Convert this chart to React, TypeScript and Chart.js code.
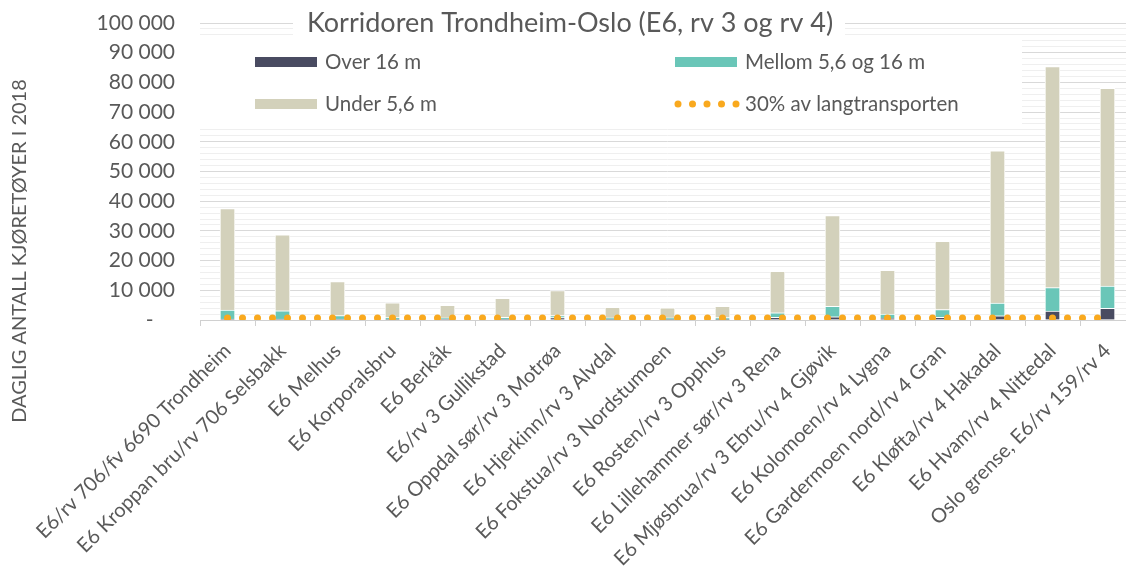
import React, { useEffect, useRef } from "react";
import { Chart, registerables } from "chart.js";

Chart.register(...registerables);

const TITLE = "Korridoren Trondheim-Oslo (E6, rv 3 og rv 4)";
const Y_TITLE = "DAGLIG ANTALL KJØRETØYER I 2018";

const categories = [
  "E6/rv 706/fv 6690 Trondheim",
  "E6 Kroppan bru/rv 706 Selsbakk",
  "E6 Melhus",
  "E6 Korporalsbru",
  "E6 Berkåk",
  "E6/rv 3 Gullikstad",
  "E6 Oppdal sør/rv 3 Motrøa",
  "E6 Hjerkinn/rv 3 Alvdal",
  "E6 Fokstua/rv 3 Nordstumoen",
  "E6 Rosten/rv 3 Opphus",
  "E6 Lillehammer sør/rv 3 Rena",
  "E6 Mjøsbrua/rv 3 Ebru/rv 4 Gjøvik",
  "E6 Kolomoen/rv 4 Lygna",
  "E6 Gardermoen nord/rv 4 Gran",
  "E6 Kløfta/rv 4 Hakadal",
  "E6 Hvam/rv 4 Nittedal",
  "Oslo grense, E6/rv 159/rv 4",
];

const over16 = [300, 300, 300, 300, 300, 300, 800, 200, 200, 200, 900, 1100, 600, 900, 1400, 3000, 3900];
const mellom = [3000, 2800, 1200, 500, 400, 600, 700, 500, 500, 600, 1500, 3500, 1400, 2600, 4300, 7900, 7500];
const under56 = [34200, 25600, 11400, 5000, 4200, 6400, 8400, 3600, 3400, 3800, 14000, 30600, 14700, 23000, 51300, 74400, 66600];
const langtransport30 = [700, 700, 700, 700, 700, 700, 700, 700, 700, 700, 700, 700, 700, 700, 700, 700, 700];

const yMin = 0;
const yMax = 100000;
const yMinorStep = 2000;
const yMajorStep = 10000;

const C_DARK = "#494B61";
const C_TEAL = "#6AC6B8";
const C_BEIGE = "#D3D1BB";
const C_ORANGE = "#F9A91E";
const C_TEXT = "#595959";
const FONT = "Lato, 'Open Sans', sans-serif";

const fmt = (v: number) =>
  v === 0 ? "-    " : String(v).replace(/\B(?=(\d{3})+(?!\d))/g, " ");

const overlayPlugin = {
  id: "overlay",
  beforeDatasetsDraw(chart: any) {
    const { ctx, chartArea } = chart;
    const L = chartArea.left;
    const T = chartArea.top;
    ctx.save();
    // white backgrounds behind title and legend
    ctx.fillStyle = "#ffffff";
    ctx.fillRect(L + 93, T - 15, 552, 30);
    ctx.fillRect(L, T + 15, 822, 89);
    // title
    ctx.fillStyle = C_TEXT;
    ctx.font = `27px ${FONT}`;
    ctx.textAlign = "center";
    ctx.textBaseline = "middle";
    ctx.fillText(TITLE, L + 370, T);
    // legend
    const ds = chart.data.datasets;
    const items = [
      { d: ds[0], x: L + 55, y: T + 39 },
      { d: ds[1], x: L + 475, y: T + 39 },
      { d: ds[2], x: L + 55, y: T + 81 },
      { d: ds[3], x: L + 475, y: T + 81 },
    ];
    ctx.font = `20.5px ${FONT}`;
    ctx.textAlign = "left";
    for (const it of items) {
      if (it.d.type === "line") {
        ctx.fillStyle = it.d.borderColor;
        for (let i = 0; i < 5; i++) {
          ctx.beginPath();
          ctx.arc(it.x + 3 + i * 14.5, it.y, 3.5, 0, Math.PI * 2);
          ctx.fill();
        }
      } else {
        ctx.fillStyle = it.d.backgroundColor;
        ctx.fillRect(it.x, it.y - 5, 62, 10);
      }
      ctx.fillStyle = C_TEXT;
      ctx.fillText(it.d.label, it.x + 70, it.y);
    }
    // y axis title
    ctx.translate(20, 251);
    ctx.rotate(-Math.PI / 2);
    ctx.font = `20px ${FONT}`;
    ctx.textAlign = "center";
    ctx.fillText(Y_TITLE, 0, 0);
    ctx.restore();
  },
};

export default function App() {
  const ref = useRef<HTMLCanvasElement | null>(null);
  useEffect(() => {
    if (!ref.current) return;
    const chart = new Chart(ref.current, {
      type: "bar",
      data: {
        labels: categories,
        datasets: [
          {
            label: "Over 16 m",
            data: over16,
            backgroundColor: C_DARK,
            borderColor: "#ffffff",
            borderWidth: 1,
            stack: "bars",
            order: 1,
            barThickness: 15,
          },
          {
            label: "Mellom 5,6 og 16 m",
            data: mellom,
            backgroundColor: C_TEAL,
            borderColor: "#ffffff",
            borderWidth: 1,
            stack: "bars",
            order: 1,
            barThickness: 15,
          },
          {
            label: "Under 5,6 m",
            data: under56,
            backgroundColor: C_BEIGE,
            borderColor: "#ffffff",
            borderWidth: 1,
            stack: "bars",
            order: 1,
            barThickness: 15,
          },
          {
            type: "line",
            label: "30% av langtransporten",
            data: langtransport30,
            borderColor: C_ORANGE,
            backgroundColor: C_ORANGE,
            borderWidth: 7,
            borderDash: [0, 15],
            borderCapStyle: "round",
            pointRadius: 0,
            pointHoverRadius: 0,
            stack: "dots",
            order: 0,
            tension: 0,
          } as any,
        ],
      },
      options: {
        responsive: false,
        animation: false,
        layout: { padding: { top: 23, right: 5, bottom: 0, left: 0 } },
        plugins: {
          legend: { display: false },
          title: { display: false },
          tooltip: { enabled: false },
        },
        scales: {
          x: {
            stacked: true,
            grid: {
              offset: true,
              drawOnChartArea: false,
              drawTicks: true,
              tickLength: 6,
              color: "#d0d0d0",
            },
            border: { display: true, color: "#d0d0d0" },
            ticks: {
              autoSkip: false,
              minRotation: 45,
              maxRotation: 45,
              padding: 13,
              color: C_TEXT,
              font: { family: FONT, size: 20 },
            },
            afterFit: (s: any) => {
              s.height = 257;
            },
          },
          y: {
            stacked: true,
            min: yMin,
            max: yMax,
            border: { display: false },
            grid: {
              drawTicks: false,
              color: (c: any) =>
                c.tick && c.tick.value % yMajorStep === 0 ? "#d9d9d9" : "#efefef",
              lineWidth: 1,
            },
            ticks: {
              stepSize: yMinorStep,
              maxTicksLimit: 200,
              autoSkip: false,
              padding: 25,
              color: C_TEXT,
              font: { family: FONT, size: 21 },
              callback: (v: any) => (Number(v) % yMajorStep === 0 ? fmt(Number(v)) : ""),
            },
            afterFit: (s: any) => {
              s.width = 200;
              s.paddingTop = 0;
              s.paddingBottom = 0;
            },
          },
        },
      },
      plugins: [overlayPlugin],
    });
    return () => chart.destroy();
  }, []);
  return (
    <div
      style={{
        position: "fixed",
        left: 0,
        top: 0,
        width: 1126,
        height: 577,
        overflow: "hidden",
        background: "#fff",
      }}
    >
      <canvas ref={ref} width={1140} height={577} style={{ width: 1140, height: 577, display: "block" }} />
    </div>
  );
}
